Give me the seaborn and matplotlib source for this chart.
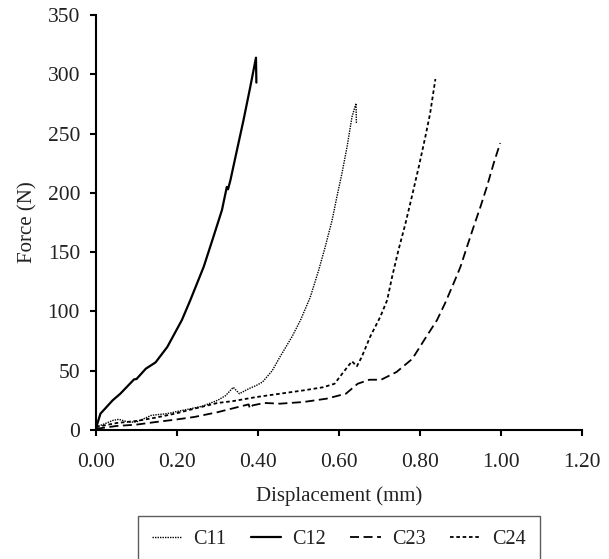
import matplotlib
matplotlib.use("Agg")
import matplotlib.pyplot as plt
import seaborn as sns
import pandas as pd

# C11 (fine dotted)
c11_x = [0.0, 0.022, 0.041, 0.056, 0.08, 0.099, 0.118, 0.137, 0.176, 0.214, 0.262, 0.30, 0.32, 0.339,
         0.354, 0.377, 0.396, 0.411, 0.435, 0.454, 0.484, 0.505, 0.529, 0.550, 0.566, 0.583, 0.595,
         0.607, 0.620, 0.632, 0.642, 0.643]
c11_y = [2.5, 5.3, 8, 9, 6.7, 6.7, 9.5, 12.4, 13.8, 16.6, 20, 25, 29, 36,
         30.6, 34.8, 37.6, 40.4, 50, 61.5, 78.7, 92.7, 112, 135, 154.5, 177, 197,
         216, 239, 264, 275.5, 258.6]

# C12 (solid)
c12_x = [0.0, 0.003, 0.011, 0.025, 0.041, 0.06, 0.094, 0.10, 0.123, 0.147, 0.176, 0.212, 0.233,
         0.266, 0.290, 0.311, 0.323, 0.326, 0.332, 0.348, 0.364, 0.381, 0.395, 0.396]
c12_y = [0, 5, 13.8, 19, 25, 30.6, 42.7, 43, 51.7, 57, 70, 92.7, 109.6,
         137.7, 163, 185.5, 205, 203, 210.8, 236, 261, 289.5, 314, 293]

# C23 (dashed)
c23_x = [0.0, 0.051, 0.099, 0.147, 0.195, 0.243, 0.30, 0.358, 0.377, 0.38, 0.387, 0.416, 0.454,
         0.512, 0.569, 0.617, 0.646, 0.675, 0.704, 0.742, 0.781, 0.813, 0.842, 0.862, 0.883,
         0.900, 0.916, 0.932, 0.949, 0.965, 0.982, 0.998]
c23_y = [1, 3.4, 4.5, 6.7, 8.7, 11, 15, 20, 21.6, 18, 20.8, 22.8, 22.2,
         23.6, 26.4, 30.6, 39, 42.4, 42.4, 48.9, 60, 77.3, 92.7, 107, 123.7,
         137.7, 154.5, 171, 188, 205, 225, 242]

# C24 (short dashes)
c24_x = [0.0, 0.051, 0.099, 0.147, 0.195, 0.243, 0.30, 0.339, 0.396, 0.454, 0.512, 0.56, 0.589,
         0.608, 0.632, 0.644, 0.656, 0.677, 0.702, 0.719, 0.731, 0.747, 0.764, 0.780, 0.797,
         0.813, 0.825, 0.838]
c24_y = [2.5, 5.9, 7.6, 10.4, 13.8, 18, 22.8, 24.4, 27.8, 30.6, 33.4, 36, 39,
         47.5, 58, 53.7, 61.5, 78.7, 95.5, 109.6, 129, 152, 174, 197, 222,
         247, 267, 296]

series_names = ["C11", "C12", "C23", "C24"]
x_ticks = [0.0, 0.2, 0.4, 0.6, 0.8, 1.0, 1.2]
y_ticks = [0, 50, 100, 150, 200, 250, 300, 350]

sns.set_theme(style="ticks")
plt.rcParams["font.family"] = ["Liberation Serif", "DejaVu Serif"]

fig = plt.figure(figsize=(6.09, 5.59), dpi=100)
ax = fig.add_axes([96 / 609, 1 - 430 / 559, (582 - 96) / 609, (430 - 15) / 559])

styles = {
    "C11": dict(linestyle=(0, (1, 0.8)), linewidth=1.0),
    "C12": dict(linestyle="-", linewidth=1.6),
    "C23": dict(linestyle=(0, (5, 2.5)), linewidth=1.3),
    "C24": dict(linestyle=(0, (2, 1.5)), linewidth=1.3),
}
data = {"C11": (c11_x, c11_y), "C12": (c12_x, c12_y), "C23": (c23_x, c23_y), "C24": (c24_x, c24_y)}

for name in series_names:
    xs, ys = data[name]
    df = pd.DataFrame({"x": xs, "y": ys})
    sns.lineplot(data=df, x="x", y="y", ax=ax, sort=False, estimator=None,
                 color="black", label=name, **styles[name])

ax.set_xlim(0, 1.2)
ax.set_ylim(0, 350)
ax.set_xticks(x_ticks)
ax.set_xticklabels([f"{t:.2f}" for t in x_ticks])
ax.set_yticks(y_ticks)
ax.set_yticklabels([str(t) for t in y_ticks])
ax.set_xlabel("Displacement (mm)", labelpad=10, fontsize=15, color="#222222")
ax.set_ylabel("Force (N)", labelpad=7, fontsize=15, color="#222222")
for s in ["top", "right"]:
    ax.spines[s].set_visible(False)
for s in ["left", "bottom"]:
    ax.spines[s].set_color("black")
    ax.spines[s].set_linewidth(1.5)
ax.tick_params(axis="both", direction="out", length=4.5, width=1.5, color="black",
               labelcolor="#222222", labelsize=15.5)
ax.tick_params(axis="x", pad=12)
ax.tick_params(axis="y", pad=7)

leg = ax.legend(loc="upper center", bbox_to_anchor=((135.7 + 541.7) / 2 / 609, 1 - 516 / 559),
                bbox_transform=fig.transFigure, ncol=4, frameon=True, fancybox=False,
                edgecolor="#333333", fontsize=14.5, handlelength=1.5, columnspacing=1.2,
                handletextpad=0.58, borderpad=0.7, borderaxespad=0)
leg.get_frame().set_linewidth(1.0)
for t in leg.get_texts():
    t.set_color("#222222")

fig.savefig("out.png", dpi=100)
